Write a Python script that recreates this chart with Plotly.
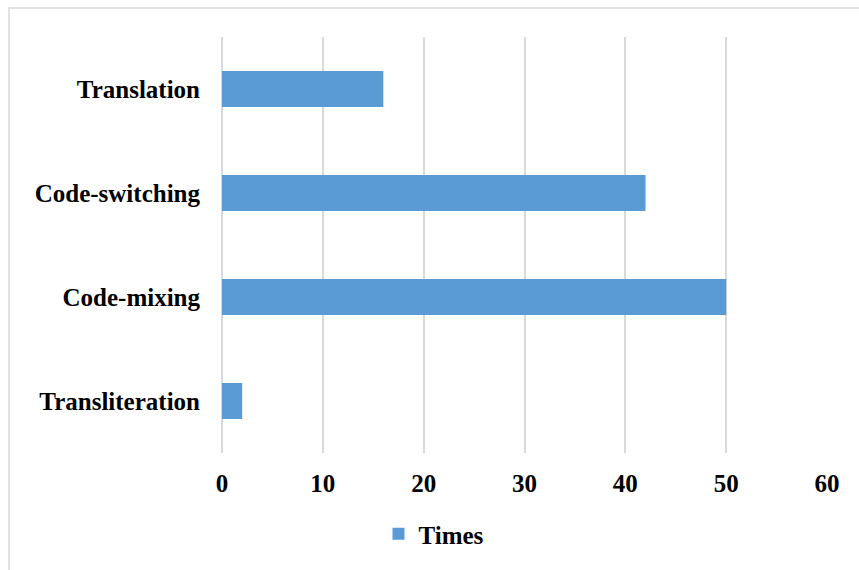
import plotly.graph_objects as go

categories = ["Transliteration", "Code-mixing", "Code-switching", "Translation"]
times = [2, 50, 42, 16]
x_ticks = [0, 10, 20, 30, 40, 50, 60]

W, H = 859, 570
ml, mr, mt, mb = 222, 32, 37, 117
pw, ph = W - ml - mr, H - mt - mb

font = dict(family="Liberation Serif", size=25, color="#000000", weight="bold")

fig = go.Figure()
fig.add_trace(go.Bar(
    x=times, y=categories, orientation="h", name="Times",
    marker=dict(color="#5B9BD5", line=dict(width=0)),
))

def px_x(p):
    return (p - ml) / pw

def px_y(p):
    return 1 - (p - mt) / ph

fig.update_layout(
    width=W, height=H,
    margin=dict(l=ml, r=mr, t=mt, b=mb, autoexpand=False),
    paper_bgcolor="white", plot_bgcolor="white",
    font=font,
    bargap=0.654,
    showlegend=True,
    legend=dict(orientation="h", x=px_x(434), xanchor="center", y=px_y(534), yanchor="middle",
                font=font, bgcolor="rgba(0,0,0,0)"),
    xaxis=dict(range=[0, 60], tickvals=x_ticks, showgrid=True, gridcolor="#D9D9D9", gridwidth=1.5,
               zeroline=True, zerolinecolor="#D9D9D9", zerolinewidth=1.5,
               showline=False, ticks="", ticklabelstandoff=13, tickfont=font),
    yaxis=dict(categoryorder="array", categoryarray=categories, showgrid=False, zeroline=False,
               showline=False, ticks="", ticklabelstandoff=21, tickfont=font),
    shapes=[dict(type="rect", xref="paper", yref="paper",
                 x0=px_x(9), x1=px_x(900), y0=px_y(8), y1=px_y(620),
                 line=dict(color="#D9D9D9", width=1.5), fillcolor="rgba(0,0,0,0)", layer="below")],
)

fig.write_html("out.html")
